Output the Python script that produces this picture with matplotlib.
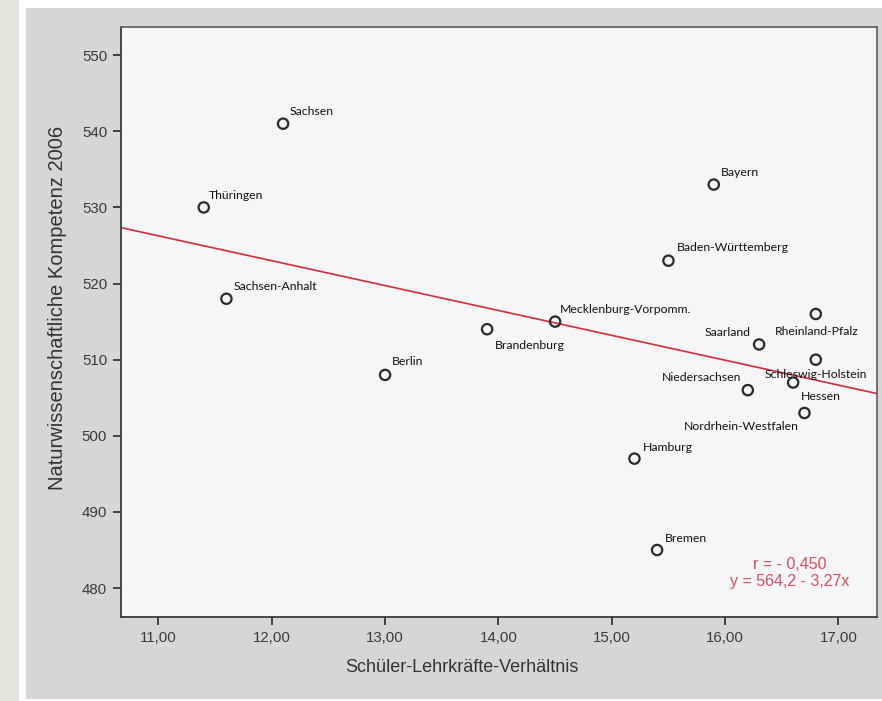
import matplotlib
matplotlib.use("Agg")
import matplotlib.pyplot as plt
from matplotlib.patches import Rectangle
import numpy as np

laender = ["Sachsen", "Thüringen", "Sachsen-Anhalt", "Berlin", "Brandenburg",
           "Mecklenburg-Vorpomm.", "Bayern", "Baden-Württemberg", "Rheinland-Pfalz",
           "Saarland", "Schleswig-Holstein", "Niedersachsen", "Hessen",
           "Nordrhein-Westfalen", "Hamburg", "Bremen"]
verhaeltnis = [12.1, 11.4, 11.6, 13.0, 13.9, 14.5, 15.9, 15.5, 16.8,
               16.3, 16.8, 16.2, 16.6, 16.7, 15.2, 15.4]
kompetenz = [541, 530, 518, 508, 514, 515, 533, 523, 516,
             512, 510, 506, 507, 503, 497, 485]
x_ticks = [11, 12, 13, 14, 15, 16, 17]
y_ticks = [480, 490, 500, 510, 520, 530, 540, 550]

# label placement in pixels: (dx, dy, ha, va)
label_pos = {
    "Sachsen": (7, 12, "left", "center"),
    "Thüringen": (5, 12, "left", "center"),
    "Sachsen-Anhalt": (7, 12, "left", "center"),
    "Berlin": (7, 13, "left", "center"),
    "Brandenburg": (8, -16, "left", "center"),
    "Mecklenburg-Vorpomm.": (5, 12, "left", "center"),
    "Bayern": (7, 12, "left", "center"),
    "Baden-Württemberg": (8, 13, "left", "center"),
    "Rheinland-Pfalz": (1, -17, "center", "center"),
    "Saarland": (-8, 12, "right", "center"),
    "Schleswig-Holstein": (0, -15, "center", "center"),
    "Niedersachsen": (-7, 13, "right", "center"),
    "Hessen": (8, -14, "left", "center"),
    "Nordrhein-Westfalen": (-6, -14, "right", "center"),
    "Hamburg": (8, 11, "left", "center"),
    "Bremen": (8, 12, "left", "center"),
}

fig = plt.figure(figsize=(8.82, 7.01), dpi=100, facecolor="white")
W, H = 882, 701
fig.patches.append(Rectangle((0, 0), 19 / W, 1, transform=fig.transFigure,
                             facecolor="#e3e5da", edgecolor="none", zorder=-5))
fig.patches.append(Rectangle((26 / W, 2 / H), 1 - 26 / W, 691 / H, transform=fig.transFigure,
                             facecolor="#d8d5d5", edgecolor="none", zorder=-5))

ax = fig.add_axes([121 / W, 84 / H, 756 / W, 590 / H])
ax.set_facecolor("#f6f5f7")

ax.scatter(verhaeltnis, kompetenz, s=55, facecolors="none", edgecolors="#2a2a2a",
           linewidths=1.6, zorder=3)

xmin, xmax = 10.67, 17.34
slope, inter = np.polyfit(verhaeltnis, kompetenz, 1)
xs = np.array([xmin, xmax])
ax.plot(xs, inter + slope * xs, color="#d42a3a", lw=1.2, zorder=2)

for name, xv, yv in zip(laender, verhaeltnis, kompetenz):
    dx, dy, ha, va = label_pos[name]
    ax.annotate(name, (xv, yv), xytext=(dx * 0.72, dy * 0.72), textcoords="offset points",
                ha=ha, va=va, fontsize=8.8, family="Lato", color="#111111", zorder=4)

ax.text(0.885, 0.075, "r = - 0,450\ny = 564,2 - 3,27x", transform=ax.transAxes,
        ha="center", va="center", fontsize=11.5, color="#d64d60",
        family="Liberation Sans", linespacing=1.15)

ax.set_xlim(xmin, xmax)
ax.set_ylim(476.2, 553.7)
ax.set_xticks(x_ticks)
ax.set_xticklabels([f"{v:.2f}".replace(".", ",") for v in x_ticks])
ax.set_yticks(y_ticks)
ax.set_yticklabels([str(v) for v in y_ticks])
ax.tick_params(direction="out", length=6, width=1.3, color="#333333",
               labelsize=10.8, labelcolor="#3a3a3a", pad=4)
for lab in ax.get_xticklabels() + ax.get_yticklabels():
    lab.set_family("Liberation Sans")

for side in ["left", "bottom"]:
    ax.spines[side].set_color("#3a3a3a")
    ax.spines[side].set_linewidth(1.3)
for side in ["top", "right"]:
    ax.spines[side].set_color("#666666")
    ax.spines[side].set_linewidth(1.3)

ax.set_xlabel("Schüler-Lehrkräfte-Verhältnis", fontsize=13, color="#333333",
              family="Liberation Sans")
ax.set_ylabel("Naturwissenschaftliche Kompetenz 2006", fontsize=14.5, color="#333333",
              family="Liberation Sans")
ax.xaxis.set_label_coords(0.451, -0.071)
ax.yaxis.set_label_coords(-0.072, 0.524)

fig.savefig("out.png", dpi=100, facecolor=fig.get_facecolor())
